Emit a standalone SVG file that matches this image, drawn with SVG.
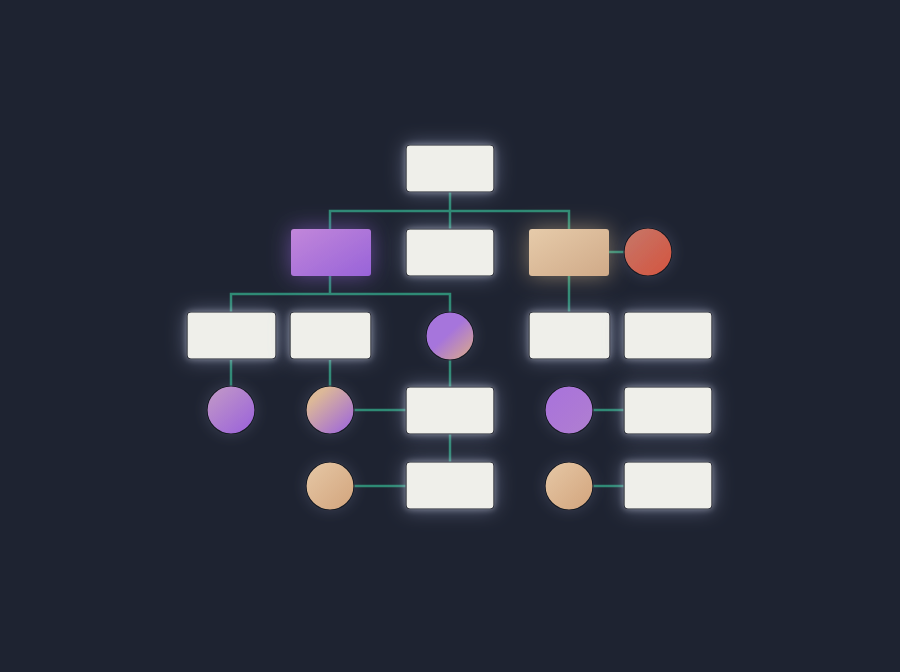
<svg xmlns="http://www.w3.org/2000/svg" width="900" height="672" viewBox="0 0 900 672">
<defs>
<filter id="glowW" x="-60%" y="-80%" width="220%" height="260%">
<feGaussianBlur in="SourceAlpha" stdDeviation="10" result="b"/>
<feFlood flood-color="#9aa3c4" flood-opacity="0.5"/>
<feComposite in2="b" operator="in" result="g"/>
<feGaussianBlur in="SourceAlpha" stdDeviation="3" result="b2"/>
<feFlood flood-color="#d0d6ec" flood-opacity="0.45"/>
<feComposite in2="b2" operator="in" result="g2"/>
<feMerge><feMergeNode in="g"/><feMergeNode in="g2"/><feMergeNode in="SourceGraphic"/></feMerge>
</filter>
<filter id="glowP" x="-60%" y="-80%" width="220%" height="260%">
<feGaussianBlur in="SourceAlpha" stdDeviation="11" result="b"/>
<feFlood flood-color="#9a68e0" flood-opacity="0.55"/>
<feComposite in2="b" operator="in" result="g"/>
<feMerge><feMergeNode in="g"/><feMergeNode in="SourceGraphic"/></feMerge>
</filter>
<filter id="glowT" x="-60%" y="-80%" width="220%" height="260%">
<feGaussianBlur in="SourceAlpha" stdDeviation="11" result="b"/>
<feFlood flood-color="#e8c89a" flood-opacity="0.5"/>
<feComposite in2="b" operator="in" result="g"/>
<feMerge><feMergeNode in="g"/><feMergeNode in="SourceGraphic"/></feMerge>
</filter>
<filter id="glowC" x="-60%" y="-60%" width="220%" height="220%">
<feGaussianBlur in="SourceAlpha" stdDeviation="7" result="b"/>
<feFlood flood-color="#7a80a0" flood-opacity="0.3"/>
<feComposite in2="b" operator="in" result="g"/>
<feMerge><feMergeNode in="g"/><feMergeNode in="SourceGraphic"/></feMerge>
</filter>
<linearGradient id="gPurpleBox" x1="0" y1="0" x2="1" y2="1">
<stop offset="0" stop-color="#c287da"/><stop offset="1" stop-color="#9863d9"/>
</linearGradient>
<linearGradient id="gTanBox" x1="0" y1="0" x2="1" y2="1">
<stop offset="0" stop-color="#e6cbaa"/><stop offset="1" stop-color="#d0aa88"/>
</linearGradient>
<linearGradient id="gRed" x1="0" y1="0" x2="1" y2="1">
<stop offset="0" stop-color="#c6786a"/><stop offset="1" stop-color="#d4533e"/>
</linearGradient>
<linearGradient id="gPurpleTan" x1="0.2" y1="0.2" x2="0.9" y2="0.95">
<stop offset="0.35" stop-color="#a674dc"/><stop offset="1" stop-color="#d6a690"/>
</linearGradient>
<linearGradient id="gTanPurple" x1="0.1" y1="0.1" x2="0.85" y2="0.95">
<stop offset="0.15" stop-color="#dcb898"/><stop offset="1" stop-color="#a16ad8"/>
</linearGradient>
<linearGradient id="gPinkPurple" x1="0.1" y1="0.1" x2="0.8" y2="0.9">
<stop offset="0" stop-color="#c096c8"/><stop offset="1" stop-color="#9f68d8"/>
</linearGradient>
<linearGradient id="gPurple" x1="0" y1="0" x2="1" y2="1">
<stop offset="0" stop-color="#a872dc"/><stop offset="1" stop-color="#b07ed0"/>
</linearGradient>
<linearGradient id="gTan" x1="0" y1="0" x2="1" y2="1">
<stop offset="0" stop-color="#e6c8a6"/><stop offset="1" stop-color="#d2a47c"/>
</linearGradient>
</defs>
<style>
.box{fill:#efefea;stroke:#161a24;stroke-width:1.2;filter:url(#glowW)}
.circ{stroke:#161a24;stroke-width:1.2;filter:url(#glowC)}
.wire{fill:none;stroke:#2e8a74;stroke-width:2.5}
</style>
<rect width="900" height="672" fill="#1e2331"/>
<g id="connectors" class="wire">
<path d="M450 192V229M330 229V211H569V229"/>
<path d="M609 252H624"/>
<path d="M330 276V294M231 312V294H450V312"/>
<path d="M569 276V312"/>
<path d="M231 360V387"/>
<path d="M330 360V387"/>
<path d="M354 410H406"/>
<path d="M450 360V387"/>
<path d="M450 434V462"/>
<path d="M354 486H406"/>
<path d="M593 410H624"/>
<path d="M593 486H624"/>
</g>
<g id="n-root"><rect class="box" x="406" y="145" width="88" height="47" rx="4"/></g>
<g id="n-purple"><rect x="291" y="229" width="80" height="47" rx="3" fill="url(#gPurpleBox)" filter="url(#glowP)"/></g>
<g id="n-mid"><rect class="box" x="406" y="229" width="88" height="47" rx="4"/></g>
<g id="n-tan"><rect x="529" y="229" width="80" height="47" rx="3" fill="url(#gTanBox)" filter="url(#glowT)"/></g>
<g id="c-red"><circle class="circ" cx="648" cy="252" r="24" fill="url(#gRed)"/></g>
<g id="n-r3a"><rect class="box" x="187" y="312" width="89" height="47" rx="4"/></g>
<g id="n-r3b"><rect class="box" x="290" y="312" width="81" height="47" rx="4"/></g>
<g id="c-r3"><circle class="circ" cx="450" cy="336" r="24" fill="url(#gPurpleTan)"/></g>
<g id="n-r3c"><rect class="box" x="529" y="312" width="81" height="47" rx="4"/></g>
<g id="n-r3d"><rect class="box" x="624" y="312" width="88" height="47" rx="4"/></g>
<g id="c-r4a"><circle class="circ" cx="231" cy="410" r="24" fill="url(#gPinkPurple)"/></g>
<g id="c-r4b"><circle class="circ" cx="330" cy="410" r="24" fill="url(#gTanPurple)"/></g>
<g id="n-r4a"><rect class="box" x="406" y="387" width="88" height="47" rx="4"/></g>
<g id="c-r4c"><circle class="circ" cx="569" cy="410" r="24" fill="url(#gPurple)"/></g>
<g id="n-r4b"><rect class="box" x="624" y="387" width="88" height="47" rx="4"/></g>
<g id="c-r5a"><circle class="circ" cx="330" cy="486" r="24" fill="url(#gTan)"/></g>
<g id="n-r5a"><rect class="box" x="406" y="462" width="88" height="47" rx="4"/></g>
<g id="c-r5b"><circle class="circ" cx="569" cy="486" r="24" fill="url(#gTan)"/></g>
<g id="n-r5b"><rect class="box" x="624" y="462" width="88" height="47" rx="4"/></g>
</svg>
